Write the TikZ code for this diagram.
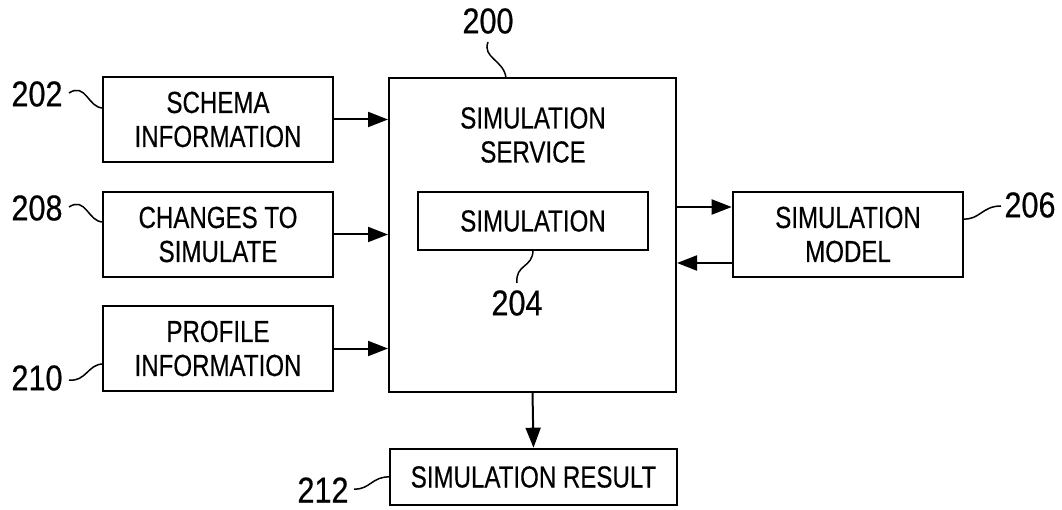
\documentclass[tikz,border=0pt]{standalone}
\usepackage{fontspec}
\setmainfont{Liberation Sans}[FakeStretch=0.79,FakeBold=0.4]
\newfontfamily\numfont{Liberation Sans}[FakeStretch=0.85,FakeBold=0.4]
\usetikzlibrary{arrows.meta}
\begin{document}
\begin{tikzpicture}[x=1pt,y=-1pt,
  box/.style={draw, line width=2.6pt, align=center, inner sep=0pt,
    font=\fontsize{30.5}{34}\selectfont},
  arr/.style={line width=2pt, -{Triangle[length=20pt,width=15pt]}},
  lead/.style={line width=1.5pt},
  num/.style={font=\numfont\fontsize{36}{40}\selectfont, inner sep=0pt}]
\useasboundingbox (0,0) rectangle (1062,510);
% boxes
\node[box, minimum width=230pt, minimum height=85pt] (schema) at (218,119.5) {SCHEMA\\INFORMATION};
\node[box, minimum width=230pt, minimum height=85pt] (changes) at (218,234.5) {CHANGES TO\\SIMULATE};
\node[box, minimum width=230pt, minimum height=85pt] (profile) at (218,348.5) {PROFILE\\INFORMATION};
\node[box, line width=2pt, minimum width=287pt, minimum height=314pt] (main) at (532.5,235) {};
\node[align=center, inner sep=0pt, font=\fontsize{30.5}{34}\selectfont] (svc) at (533,135) {SIMULATION\\SERVICE};
\node[box, line width=2.2pt, minimum width=230pt, minimum height=58pt] (sim) at (533,221) {SIMULATION};
\node[box, minimum width=230pt, minimum height=85pt] (model) at (848,234.5) {SIMULATION\\MODEL};
\node[box, minimum width=287pt, minimum height=56pt] (result) at (533.5,477) {SIMULATION RESULT};
% connectors
\draw[arr] (schema.east) -- (schema.east -| main.west);
\draw[arr] (changes.east) -- (changes.east -| main.west);
\draw[arr] (profile.east) -- (profile.east -| main.west);
\coordinate (mo) at (676,207);
\coordinate (mi) at (676,263);
\draw[arr] (mo -| main.east) -- (mo -| model.west);
\draw[arr] (mi -| model.west) -- (mi -| main.east);
\draw[arr] (main.south) -- (result.north);
% reference numerals
\node[num] (n200) at (488,21) {200};
\node[num] (n204) at (517,303) {204};
\node[num] (n202) at (37,94) {202};
\node[num] (n208) at (37,208) {208};
\node[num] (n210) at (37,378) {210};
\node[num] (n206) at (1030,205) {206};
\node[num] (n212) at (323,490) {212};
\coordinate (l200) at (506,78);
\draw[lead] (488,42) .. controls (482,58) and (504,60) .. (l200);
\coordinate (l204) at (533,250);
\draw[lead] (l204) .. controls (533,268) and (515,264) .. (517,283);
\coordinate (l202) at (103,108);
\draw[lead] (69,93) .. controls (86,82) and (88,108) .. (l202);
\coordinate (l208) at (103,222);
\draw[lead] (69,207) .. controls (86,196) and (88,222) .. (l208);
\coordinate (l210) at (103,364);
\draw[lead] (69,380) .. controls (86,382) and (88,364) .. (l210);
\coordinate (l206) at (963,219);
\draw[lead] (l206) .. controls (980,220) and (982,206) .. (1001,206);
\coordinate (l212) at (390,477);
\draw[lead] (354,489) .. controls (370,490) and (372,476) .. (l212);
\end{tikzpicture}
\end{document}
